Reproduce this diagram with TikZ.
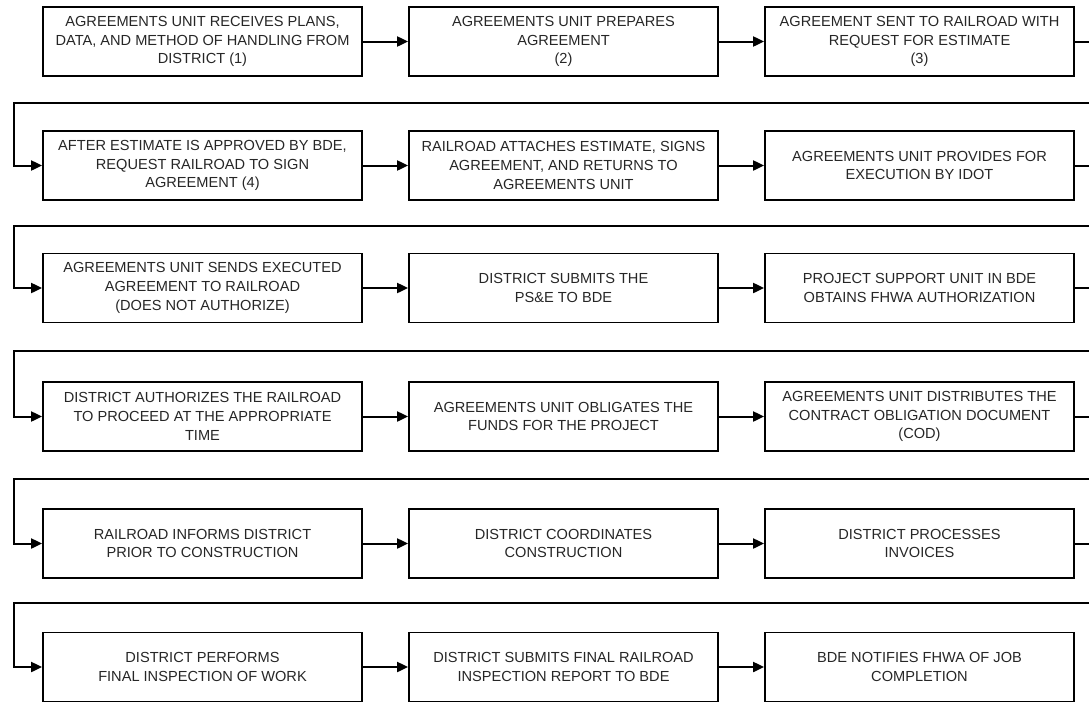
\documentclass[tikz,border=0pt]{standalone}
\usepackage{fontspec}
\setmainfont{Liberation Sans}
\usetikzlibrary{arrows.meta}

\tikzset{
  box/.style={draw, line width=1.8pt, minimum width=309pt, minimum height=69pt,
    align=center, inner sep=0pt, text=black!85, font=\fontsize{14.6}{18.7}\selectfont},
  wide/.style={minimum width=319pt},
  flow/.style={line width=2pt, -{Triangle[length=11pt,width=10pt]}},
}

\begin{document}
\begin{tikzpicture}[x=1pt, y=-1pt]
      \useasboundingbox (0,0) rectangle (1089,702);
      % row 1
      \node[box,wide] (s1) at (202.5, 41.5) {AGREEMENTS UNIT RECEIVES PLANS,\\DATA, AND METHOD OF HANDLING FROM\\DISTRICT (1)};
      \node[box] (s2) at (563.5, 41.5) {AGREEMENTS UNIT PREPARES\\AGREEMENT\\(2)};
      \node[box] (s3) at (919.5, 41.5) {AGREEMENT SENT TO RAILROAD WITH\\REQUEST FOR ESTIMATE\\(3)};
      % row 2
      \node[box,wide] (s4) at (202.5, 165.5) {AFTER ESTIMATE IS APPROVED BY BDE,\\REQUEST RAILROAD TO SIGN\\AGREEMENT (4)};
      \node[box] (s5) at (563.5, 165.5) {RAILROAD ATTACHES ESTIMATE, SIGNS\\AGREEMENT, AND RETURNS TO\\AGREEMENTS UNIT};
      \node[box] (s6) at (919.5, 165.5) {AGREEMENTS UNIT PROVIDES FOR\\EXECUTION BY IDOT};
      % row 3
      \node[box,wide] (s7) at (202.5, 288) {AGREEMENTS UNIT SENDS EXECUTED\\AGREEMENT TO RAILROAD\\(DOES NOT AUTHORIZE)};
      \node[box] (s8) at (563.5, 288) {DISTRICT SUBMITS THE\\PS\&E TO BDE};
      \node[box] (s9) at (919.5, 288) {PROJECT SUPPORT UNIT IN BDE\\OBTAINS FHWA AUTHORIZATION};
      % row 4
      \node[box,wide] (s10) at (202.5, 416.5) {DISTRICT AUTHORIZES THE RAILROAD\\TO PROCEED AT THE APPROPRIATE\\TIME};
      \node[box] (s11) at (563.5, 416.5) {AGREEMENTS UNIT OBLIGATES THE\\FUNDS FOR THE PROJECT};
      \node[box] (s12) at (919.5, 416.5) {AGREEMENTS UNIT DISTRIBUTES THE\\CONTRACT OBLIGATION DOCUMENT\\(COD)};
      % row 5
      \node[box,wide] (s13) at (202.5, 543.5) {RAILROAD INFORMS DISTRICT\\PRIOR TO CONSTRUCTION};
      \node[box] (s14) at (563.5, 543.5) {DISTRICT COORDINATES\\CONSTRUCTION};
      \node[box] (s15) at (919.5, 543.5) {DISTRICT PROCESSES\\INVOICES};
      % row 6
      \node[box,wide] (s16) at (202.5, 667) {DISTRICT PERFORMS\\FINAL INSPECTION OF WORK};
      \node[box] (s17) at (563.5, 667) {DISTRICT SUBMITS FINAL RAILROAD\\INSPECTION REPORT TO BDE};
      \node[box] (s18) at (919.5, 667) {BDE NOTIFIES FHWA OF JOB\\COMPLETION};
      % turn points of the return lines
      \coordinate (t1) at (1096, 103);  \coordinate (b1) at (14, 103);
      \coordinate (t2) at (1096, 226);  \coordinate (b2) at (14, 226);
      \coordinate (t3) at (1096, 351);  \coordinate (b3) at (14, 351);
      \coordinate (t4) at (1096, 479);  \coordinate (b4) at (14, 479);
      \coordinate (t5) at (1096, 603);  \coordinate (b5) at (14, 603);
      % arrows within a row
      \foreach \a/\b in {s1/s2, s2/s3, s4/s5, s5/s6, s7/s8, s8/s9,
                         s10/s11, s11/s12, s13/s14, s14/s15, s16/s17, s17/s18}
        \draw[flow] (\a.east) -- (\b.west);
      % arrows back to the next row
      \foreach \a/\i/\b in {s3/1/s4, s6/2/s7, s9/3/s10, s12/4/s13, s15/5/s16}
        \draw[flow] (\a.east) -| (t\i) -- (b\i) |- (\b.west);
    \end{tikzpicture}
\end{document}
